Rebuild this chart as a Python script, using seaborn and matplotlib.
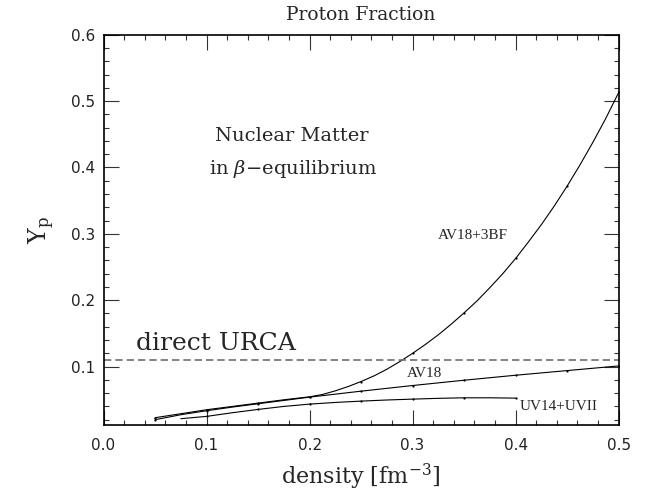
import numpy as np
import pandas as pd
import matplotlib
matplotlib.use("Agg")
import matplotlib.pyplot as plt
from matplotlib.ticker import MultipleLocator, FormatStrFormatter
import seaborn as sns

# Proton fraction of beta-stable nuclear matter for three interaction models
density_3bf = [0.05, 0.075, 0.10, 0.125, 0.15, 0.175, 0.20, 0.2125, 0.225, 0.2375,
               0.25, 0.2625, 0.275, 0.2875, 0.30, 0.3125, 0.325, 0.3375, 0.35,
               0.3625, 0.375, 0.3875, 0.40, 0.4125, 0.425, 0.4375, 0.45, 0.4625,
               0.475, 0.4875, 0.50]
yp_av18_3bf = [0.023, 0.029, 0.035, 0.040, 0.045, 0.050, 0.0545, 0.058, 0.0635, 0.070,
               0.0775, 0.086, 0.096, 0.1075, 0.120, 0.1335, 0.148, 0.164, 0.181,
               0.199, 0.219, 0.240, 0.263, 0.288, 0.314, 0.342, 0.372, 0.404,
               0.438, 0.474, 0.513]

density_av18 = [0.05, 0.075, 0.10, 0.125, 0.15, 0.175, 0.20, 0.25, 0.30, 0.35,
                0.40, 0.45, 0.50]
yp_av18 = [0.020, 0.0275, 0.0335, 0.039, 0.044, 0.049, 0.054, 0.063, 0.0715, 0.0795,
           0.087, 0.094, 0.101]

density_uv14 = [0.075, 0.10, 0.125, 0.15, 0.175, 0.20, 0.225, 0.25, 0.275, 0.30,
                0.325, 0.35, 0.375, 0.40]
yp_uv14 = [0.0215, 0.025, 0.0305, 0.0355, 0.040, 0.0435, 0.046, 0.048, 0.0497, 0.051,
           0.0522, 0.053, 0.053, 0.0525]

urca_threshold = 0.11

curve_labels = ["AV18+3BF", "AV18", "UV14+UVII"]

sns.set_style("ticks")
plt.rcParams["font.family"] = ["DejaVu Serif"]
plt.rcParams["mathtext.fontset"] = "dejavuserif"

fig = plt.figure(figsize=(6.49, 4.93), dpi=100)
ax = fig.add_axes([0.1595, 0.1379, 0.7938, 0.7917])


def dot_positions(xs):
    # small dots mark the computed densities (every 0.05 fm^-3)
    return [i for i, v in enumerate(xs) if abs(v / 0.05 - round(v / 0.05)) < 1e-6]


for xs, ys in [(density_3bf, yp_av18_3bf), (density_av18, yp_av18),
               (density_uv14, yp_uv14)]:
    df = pd.DataFrame({"density": xs, "yp": ys})
    sns.lineplot(data=df, x="density", y="yp", ax=ax, color="black", lw=0.8,
                 estimator=None, sort=False, marker="o", markersize=1.6,
                 markeredgewidth=0, markevery=dot_positions(xs))

ax.axhline(urca_threshold, color="#6e6e6e", lw=1.2, dashes=(4.4, 2.4))

ax.set_xlim(0.0, 0.5)
ax.set_ylim(0.012, 0.6)
ax.xaxis.set_major_locator(MultipleLocator(0.1))
ax.xaxis.set_minor_locator(MultipleLocator(0.02))
ax.yaxis.set_major_locator(MultipleLocator(0.1))
ax.yaxis.set_minor_locator(MultipleLocator(0.02))
ax.xaxis.set_major_formatter(FormatStrFormatter("%.1f"))
ax.yaxis.set_major_formatter(FormatStrFormatter("%.1f"))

ax.tick_params(which="both", direction="in", top=True, right=True,
               color="#333333", width=0.8)
ax.tick_params(which="major", length=10.8)
ax.tick_params(which="minor", length=3.8)
ax.tick_params(axis="x", which="major", pad=9.4)
ax.tick_params(axis="y", which="major", pad=6.0)
for lab in ax.get_xticklabels() + ax.get_yticklabels():
    lab.set_fontfamily("DejaVu Sans")
    lab.set_fontsize(11)
    lab.set_color("#222222")

for sp in ax.spines.values():
    sp.set_linewidth(1.2)
    sp.set_color("black")

ax.set_xlabel(r"density [fm$^{-3}$]", fontsize=16, labelpad=6)
ax.set_ylabel(r"Y$_\mathrm{p}$", fontsize=17, labelpad=10)

fig.text(0.5565, 1 - 15 / 493, "Proton Fraction", ha="center", va="center",
         fontsize=13.5)

ax.text(0.183, 0.4473, "Nuclear Matter", ha="center", va="center", fontsize=14)
ax.text(0.184, 0.3976, r"in $\beta$−equilibrium", ha="center", va="center",
        fontsize=14)
ax.text(0.032, 0.1243, "direct URCA", ha="left", va="baseline", fontsize=18)

small = dict(ha="center", va="center", fontsize=11, family="Liberation Serif")
ax.text(0.3587, 0.297, curve_labels[0], **small)
ax.text(0.3117, 0.0898, curve_labels[1], **small)
ax.text(0.4417, 0.0392, curve_labels[2], **small)

fig.savefig("out.png", dpi=100)
